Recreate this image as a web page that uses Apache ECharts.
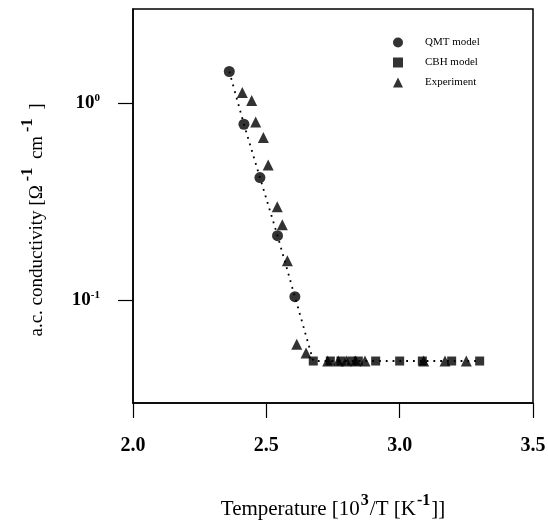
<!DOCTYPE html>
<html>
<head>
<meta charset="utf-8">
<script src="https://cdn.jsdelivr.net/npm/echarts@6/dist/echarts.min.js"></script>
<style>
  html, body { margin: 0; padding: 0; background: #fff; }
  #chart { width: 548px; height: 523px; }
</style>
</head>
<body>
<div id="chart"></div>
<script>
// x = 10^3/T [K^-1], y = a.c. conductivity [Ohm^-1 cm^-1]
const qmtX = [2.361, 2.416, 2.476, 2.542, 2.607];
const qmtY = [1.445, 0.78, 0.418, 0.212, 0.104];

const cbhX = [2.676, 2.74, 2.78, 2.82, 2.845, 2.91, 3.0, 3.085, 3.195, 3.30];
const cbhY = [0.049, 0.049, 0.049, 0.049, 0.049, 0.049, 0.049, 0.049, 0.049, 0.049];

const expX = [2.41, 2.445, 2.46, 2.489, 2.507, 2.541, 2.56, 2.579, 2.614, 2.649,
              2.73, 2.77, 2.80, 2.835, 2.87, 3.09, 3.17, 3.25];
const expY = [1.13, 1.03, 0.80, 0.668, 0.484, 0.297, 0.241, 0.158, 0.0597, 0.0538,
              0.049, 0.049, 0.049, 0.049, 0.049, 0.049, 0.049, 0.049];

const xTicks = [2.0, 2.5, 3.0, 3.5];
const yTicks = [0.1, 1];

const SERIF = '"Liberation Serif", "DejaVu Serif", serif';

const zip = (xs, ys) => xs.map((x, i) => [x, ys[i]]);
// dotted model curve through the model points
const fitLine = zip(qmtX, qmtY).concat(zip(cbhX, cbhY)).sort((a, b) => a[0] - b[0]);

const chart = echarts.init(document.getElementById('chart'));

const option = {
  animation: false,
  backgroundColor: '#fff',
  grid: {
    left: 133, top: 9, right: 15, bottom: 120,
    outerBoundsMode: 'none',
    show: true, borderColor: '#000', borderWidth: 1.5
  },
  legend: {
    orient: 'vertical',
    left: 393, top: 37,
    padding: 0,
    itemWidth: 10, itemHeight: 10, itemGap: 9,
    data: [
      { name: 'QMT model', icon: 'circle' },
      { name: 'CBH model', icon: 'rect' },
      { name: 'Experiment', icon: 'triangle' }
    ],
    textStyle: { fontFamily: SERIF, fontSize: 11, color: '#000', padding: [0, 0, 0, 17] }
  },
  xAxis: {
    type: 'value',
    min: 2.0, max: 3.5, interval: 0.5,
    name: 'Temperature [10{sup|3}/T [K{sup|-1}]]',
    nameLocation: 'middle',
    nameGap: 90,
    nameTextStyle: {
      fontFamily: SERIF, fontSize: 21, color: '#000',
      rich: { sup: { fontFamily: SERIF, fontSize: 16, fontWeight: 'bold', color: '#000', verticalAlign: 'bottom', padding: [0, 1, 16, 1] } }
    },
    axisLine: { lineStyle: { color: '#000', width: 1.5 } },
    axisTick: { inside: false, length: 15, lineStyle: { color: '#000', width: 1.2 } },
    axisLabel: {
      margin: 33,
      fontFamily: SERIF, fontSize: 20, fontWeight: 'bold', color: '#000',
      formatter: v => xTicks.some(t => Math.abs(t - v) < 1e-9) ? v.toFixed(1) : ''
    },
    splitLine: { show: false }
  },
  yAxis: {
    type: 'log',
    min: 0.03, max: 3,
    name: 'a.c. conductivity [Ω{sup|-1} cm{sup|-1} ]',
    nameLocation: 'middle',
    nameGap: 79,
    nameTextStyle: {
      fontFamily: SERIF, fontSize: 19, color: '#000',
      padding: [0, 28, 0, 0],
      rich: { sup: { fontFamily: SERIF, fontSize: 16, fontWeight: 'bold', color: '#000', padding: [0, 4, 18, 4] } }
    },
    axisLine: { lineStyle: { color: '#000', width: 1.5 } },
    axisTick: { inside: false, length: 15, customValues: yTicks, lineStyle: { color: '#000', width: 1.2 } },
    axisLabel: {
      margin: 33,
      customValues: yTicks,
      fontFamily: SERIF, fontSize: 19, fontWeight: 'bold', color: '#000',
      formatter: v => v >= 1 ? '10{s|0}' : '10{s|-1}',
      rich: { s: { fontFamily: SERIF, fontSize: 11, fontWeight: 'bold', color: '#000', padding: [0, 0, 9, 0] } }
    },
    splitLine: { show: false }
  },
  series: [
    {
      name: 'fit',
      type: 'line',
      data: fitLine,
      symbol: 'none',
      lineStyle: { color: '#000', width: 1.8, type: [1.8, 5] },
      silent: true,
      z: 1
    },
    {
      name: 'QMT model',
      type: 'scatter',
      data: zip(qmtX, qmtY),
      symbol: 'circle',
      symbolSize: 11,
      itemStyle: { color: '#000' },
      z: 3
    },
    {
      name: 'CBH model',
      type: 'scatter',
      data: zip(cbhX, cbhY),
      symbol: 'rect',
      symbolSize: 9,
      itemStyle: { color: '#000' },
      z: 3
    },
    {
      name: 'Experiment',
      type: 'scatter',
      data: zip(expX, expY),
      symbol: 'triangle',
      symbolSize: 11,
      itemStyle: { color: '#000' },
      z: 3
    }
  ]
};

chart.setOption(option);
</script>
</body>
</html>
